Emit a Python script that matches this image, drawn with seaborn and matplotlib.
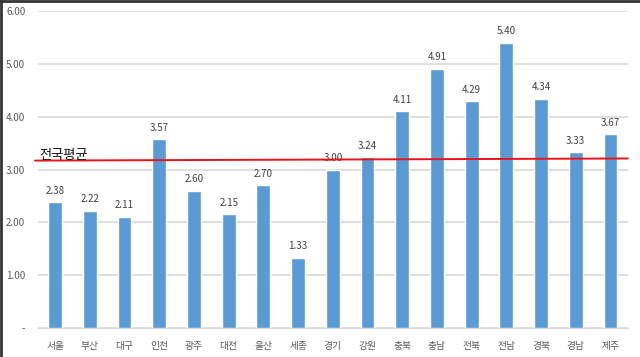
import matplotlib
matplotlib.use("Agg")
import matplotlib.pyplot as plt
import seaborn as sns
import pandas as pd

# 지역별 값
regions = ["서울", "부산", "대구", "인천", "광주", "대전", "울산", "세종", "경기",
           "강원", "충북", "충남", "전북", "전남", "경북", "경남", "제주"]
values = [2.38, 2.22, 2.11, 3.57, 2.60, 2.15, 2.70, 1.33, 3.00,
          3.24, 4.11, 4.91, 4.29, 5.40, 4.34, 3.33, 3.67]
avg_line = [3.17, 3.21]  # 전국평균 (왼쪽, 오른쪽 끝)
yticks = [0, 1, 2, 3, 4, 5, 6]
ytick_labels = ["-", "1.00", "2.00", "3.00", "4.00", "5.00", "6.00"]

df = pd.DataFrame({"region": regions, "value": values})

sns.set_style("white")
plt.rcParams['font.family'] = ['Noto Sans CJK KR', 'DejaVu Sans']

fig = plt.figure(figsize=(6.4, 3.57), dpi=100)
ax = fig.add_axes([0.059, 0.081, 0.922, 0.888])

sns.barplot(data=df, x="region", y="value", color="#5B9BD5", width=0.4,
            saturation=1, ax=ax, zorder=3)

for i, v in enumerate(values):
    ax.text(i, v + 0.12, f"{v:.2f}", ha="center", va="bottom",
            fontsize=7, color="#404040")

ax.set_ylim(0, 6)
ax.set_xlim(-0.5, len(regions) - 0.5)
ax.set_yticks(yticks)
ax.set_yticklabels(ytick_labels)
ax.yaxis.grid(True, color="#D9D9D9", linewidth=1.2, zorder=0)
ax.set_axisbelow(True)
ax.tick_params(axis="both", length=0, labelsize=7, labelcolor="#595959")
ax.tick_params(axis="y", pad=9)
ax.tick_params(axis="x", pad=9)
ax.set_xlabel("")
ax.set_ylabel("")
for s in ["top", "right", "left"]:
    ax.spines[s].set_visible(False)
ax.spines["bottom"].set_color("#D9D9D9")

# 전국평균 선
ax.plot([-0.58, len(regions) - 0.5], avg_line, color="#E8141B", linewidth=1.4,
        zorder=5, clip_on=False)
ax.text(-0.45, avg_line[0] - 0.02, "전국평균", fontsize=9.5, color="#111111",
        ha="left", va="bottom", zorder=6)

# 화면 테두리
fig.add_artist(plt.Line2D([0.002, 0.002], [0, 1], color="#333333", linewidth=2,
                          transform=fig.transFigure))
fig.add_artist(plt.Line2D([0, 1], [0.998, 0.998], color="#333333", linewidth=2,
                          transform=fig.transFigure))

fig.savefig("out.png", dpi=100)
